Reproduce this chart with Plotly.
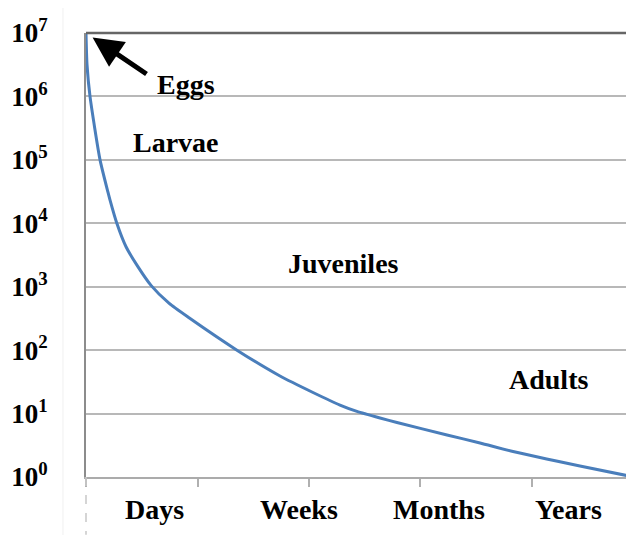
import plotly.graph_objects as go

# curve (x in stage units: one tick per stage)
curve_x = [0.0, 0.009, 0.036, 0.126, 0.197, 0.215, 0.275, 0.359, 0.464, 0.583, 0.744, 0.924,
           1.354, 1.740, 2.036, 2.278, 2.430, 2.637, 2.789, 3.238, 3.534, 3.830, 4.430, 4.915]
curve_y = [1e7, 3.2e6, 1.0e6, 1.0e5, 30900, 23400, 10200, 4270, 2090, 1050, 550, 324,
           100, 39.1, 21.5, 13.6, 10.8, 8.51, 7.23, 4.59, 3.44, 2.52, 1.49, 1.0]

y_ticks = [0, 1, 2, 3, 4, 5, 6, 7]
x_ticks = [0, 1, 2, 3, 4]
stage_labels = ["Days", "Weeks", "Months", "Years"]
stage_pos = [0.61, 1.91, 3.17, 4.33]

life_labels = ["Eggs", "Larvae", "Juveniles", "Adults"]
life_x = [0.90, 0.81, 2.31, 4.15]
life_y = [6.19, 5.28, 3.37, 1.53]

FONT = "Liberation Serif"
# the page has an 8px body margin, so the figure is drawn 8px in from the top-left
OFF = 8

fig = go.Figure()
fig.add_trace(go.Scatter(
    x=curve_x, y=curve_y, mode="lines",
    line=dict(color="#4a7ebb", width=3, shape="spline", smoothing=0.6),
    hoverinfo="skip", showlegend=False,
))

annotations = []
for lab, xp in zip(stage_labels, stage_pos):
    annotations.append(dict(
        x=xp, y=0, xref="x", yref="y", text="<b>%s</b>" % lab, showarrow=False,
        yshift=-32, font=dict(family=FONT, size=28, color="black"),
    ))
for lab, xp, yp in zip(life_labels, life_x, life_y):
    annotations.append(dict(
        x=xp, y=yp, xref="x", yref="y", text="<b>%s</b>" % lab, showarrow=False,
        font=dict(family=FONT, size=28, color="black"),
    ))
# arrow pointing at the eggs
annotations.append(dict(
    x=0, y=7, xref="x", yref="y", ax=62, ay=42, axref="pixel", ayref="pixel",
    text="", showarrow=True, arrowhead=2, arrowsize=1.2, arrowwidth=5,
    arrowcolor="black", standoff=8,
))

fig.update_layout(
    width=634 - OFF, height=535 - OFF,
    margin=dict(l=86 - OFF, r=0, t=33 - OFF, b=58, pad=0),
    paper_bgcolor="white", plot_bgcolor="white",
    showlegend=False,
    annotations=annotations,
    xaxis=dict(
        range=[0, 4.915], showgrid=False, zeroline=False,
        tickvals=x_ticks, ticks="outside", ticklen=8, tickwidth=1.5,
        tickcolor="#b0b0b0", showticklabels=False,
        showline=True, linecolor="#ababab", linewidth=2,
    ),
    yaxis=dict(
        type="log", range=[0, 7],
        tickvals=[10 ** v for v in y_ticks],
        ticktext=["<b>10<sup>%d</sup></b>" % v for v in y_ticks],
        tickfont=dict(family=FONT, size=27, color="black"),
        ticks="", ticklabelstandoff=31,
        showgrid=True, gridcolor="#b8b8b8", gridwidth=2,
        zeroline=False, showline=True, linecolor="#8c8c8c", linewidth=2,
    ),
    shapes=[
        dict(type="line", xref="paper", yref="paper", x0=0, x1=1, y0=1, y1=1,
             line=dict(color="#666666", width=2.5)),
        dict(type="line", xref="paper", yref="paper", x0=0, x1=0, y0=0, y1=-0.13,
             line=dict(color="#c8c8c8", width=1.5, dash="dash")),
        dict(type="rect", xref="paper", yref="paper", x0=-0.042, x1=1.01, y0=-0.14, y1=1.063,
             line=dict(color="#f0f0f0", width=1)),
    ],
)

fig.write_html("out.html")
